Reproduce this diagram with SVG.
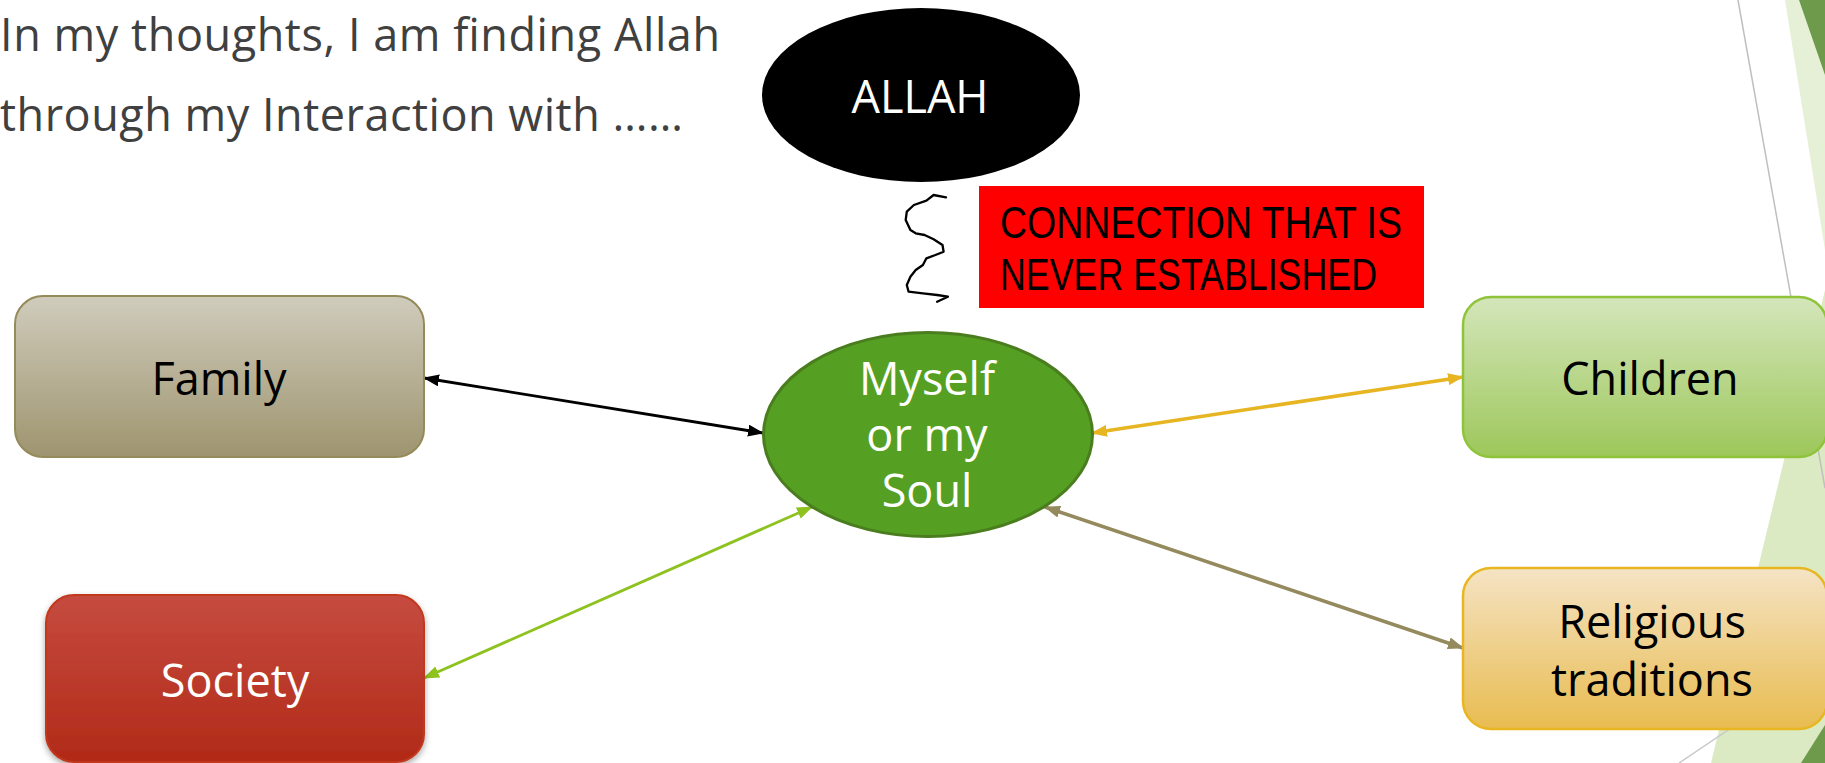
<svg xmlns="http://www.w3.org/2000/svg" width="1825" height="763" viewBox="0 0 1825 763">
<style>
.lbl{font-family:"Open Sans","Liberation Sans",sans-serif;font-size:45px;text-anchor:middle}
.title{font-family:"Open Sans","Liberation Sans",sans-serif;font-size:45px;fill:#404040}
.red{font-family:"Liberation Sans","Open Sans",sans-serif;font-size:44px;fill:#000}
.conn{fill:none}
</style>
<defs>
<linearGradient id="gFam" x1="0" y1="0" x2="0" y2="1"><stop offset="0" stop-color="#D0CCBC"/><stop offset="1" stop-color="#9E946F"/></linearGradient>
<linearGradient id="gSoc" x1="0" y1="0" x2="0" y2="1"><stop offset="0" stop-color="#C64B40"/><stop offset="1" stop-color="#B12A17"/></linearGradient>
<linearGradient id="gChi" x1="0" y1="0" x2="0" y2="1"><stop offset="0" stop-color="#D4E6BB"/><stop offset="1" stop-color="#9DC75A"/></linearGradient>
<linearGradient id="gRel" x1="0" y1="0" x2="0" y2="1"><stop offset="0" stop-color="#F5E3C4"/><stop offset="1" stop-color="#E8BC50"/></linearGradient>
<filter id="shadow" x="-10%" y="-10%" width="120%" height="130%"><feDropShadow dx="0" dy="3" stdDeviation="3" flood-color="#000" flood-opacity="0.35"/></filter>
<marker id="mBlack" viewBox="0 0 16 12" markerWidth="16" markerHeight="12" refX="15" refY="6" orient="auto-start-reverse" markerUnits="userSpaceOnUse"><path d="M0,0 L16,6 L0,12 z" fill="#000"/></marker>
<marker id="mGreen" viewBox="0 0 16 12" markerWidth="16" markerHeight="12" refX="15" refY="6" orient="auto-start-reverse" markerUnits="userSpaceOnUse"><path d="M0,0 L16,6 L0,12 z" fill="#8DC21F"/></marker>
<marker id="mYellow" viewBox="0 0 16 12" markerWidth="16" markerHeight="12" refX="15" refY="6" orient="auto-start-reverse" markerUnits="userSpaceOnUse"><path d="M0,0 L16,6 L0,12 z" fill="#E6B521"/></marker>
<marker id="mBrown" viewBox="0 0 16 12" markerWidth="16" markerHeight="12" refX="15" refY="6" orient="auto-start-reverse" markerUnits="userSpaceOnUse"><path d="M0,0 L16,6 L0,12 z" fill="#948A5D"/></marker>
</defs>
<rect x="0" y="0" width="1825" height="763" fill="#FFFFFF"/>
<g id="decor">
<polygon points="1785,0 1825,0 1825,250" fill="#E6F0D7"/>
<polygon points="1799,0 1825,0 1825,75" fill="#6E9A4C"/>
<polygon points="1825,290 1711,763 1825,763" fill="#DCEAC3"/>
<polygon points="1825,725 1801,763 1825,763" fill="#6E9A4C"/>
<line x1="1738" y1="0" x2="1825" y2="488" stroke="#BFBFBF" stroke-width="1.5"/>
<line x1="1679" y1="763" x2="1825" y2="665" stroke="#C8C8C8" stroke-width="1.5"/>
</g>
<g id="title">
<text class="title" x="0" y="51" textLength="720" lengthAdjust="spacing">In my thoughts, I am finding Allah</text>
<text class="title" x="0" y="131" textLength="683" lengthAdjust="spacing">through my Interaction with ……</text>
</g>
<g id="connectors">
<line class="conn" x1="424" y1="378" x2="763" y2="433" stroke="#000" stroke-width="2.8" marker-start="url(#mBlack)" marker-end="url(#mBlack)"/>
<line class="conn" x1="424" y1="678" x2="812" y2="507" stroke="#8DC21F" stroke-width="2.8" marker-start="url(#mGreen)" marker-end="url(#mGreen)"/>
<line class="conn" x1="1092" y1="433" x2="1463" y2="377" stroke="#E6B521" stroke-width="3.5" marker-start="url(#mYellow)" marker-end="url(#mYellow)"/>
<line class="conn" x1="1045" y1="507" x2="1463" y2="648" stroke="#948A5D" stroke-width="3.5" marker-start="url(#mBrown)" marker-end="url(#mBrown)"/>
<path class="conn" d="M946,197.3 L933.6,195 L926.4,200.7 L913.9,205 L906.8,211.7 L905.7,220 L910.4,230 L915.7,233.3 L924.6,235 L933.6,239.3 L942.5,245 L943.6,251.7 L935.4,255 L926.4,258.3 L922.9,265 L915.7,270 L910.4,276.7 L906.8,285 L908.6,291.7 L922.9,293.3 L937.1,295 L947.9,296.7 L937.1,301.7" stroke="#000" stroke-width="2.3" stroke-linejoin="round" stroke-linecap="round"/>
</g>
<g id="allah">
<ellipse cx="921" cy="95" rx="159" ry="87" fill="#000"/>
<text class="lbl" x="920" y="113" fill="#FFF">ALLAH</text>
</g>
<g id="note">
<rect x="979" y="186" width="445" height="122" fill="#FF0000"/>
<text class="red" x="1000" y="238" textLength="402" lengthAdjust="spacingAndGlyphs">CONNECTION THAT IS</text>
<text class="red" x="1000" y="290" textLength="377" lengthAdjust="spacingAndGlyphs">NEVER ESTABLISHED</text>
</g>
<g id="myself">
<ellipse cx="928" cy="434.5" rx="164.5" ry="102" fill="#55A023" stroke="#4A7D1E" stroke-width="3"/>
<text class="lbl" x="927" y="395" fill="#FFF">Myself</text>
<text class="lbl" x="927" y="451" fill="#FFF">or my</text>
<text class="lbl" x="927" y="507" fill="#FFF">Soul</text>
</g>
<g id="family">
<rect x="15" y="296" width="409" height="161" rx="28" ry="28" fill="url(#gFam)" stroke="#958B5A" stroke-width="2"/>
<text class="lbl" x="219" y="395" fill="#000">Family</text>
</g>
<g id="society">
<rect x="46" y="595" width="378" height="167" rx="28" ry="28" fill="url(#gSoc)" stroke="#C2381F" stroke-width="2" filter="url(#shadow)"/>
<text class="lbl" x="235" y="697" fill="#FFF">Society</text>
</g>
<g id="children">
<rect x="1463" y="297" width="364" height="160" rx="28" ry="28" fill="url(#gChi)" stroke="#8FC43A" stroke-width="2.5"/>
<text class="lbl" x="1650" y="395" fill="#000">Children</text>
</g>
<g id="religious">
<rect x="1463" y="568" width="364" height="161" rx="28" ry="28" fill="url(#gRel)" stroke="#E8B620" stroke-width="2.5"/>
<text class="lbl" x="1652" y="638" fill="#000">Religious</text>
<text class="lbl" x="1652" y="696" fill="#000">traditions</text>
</g>
</svg>
